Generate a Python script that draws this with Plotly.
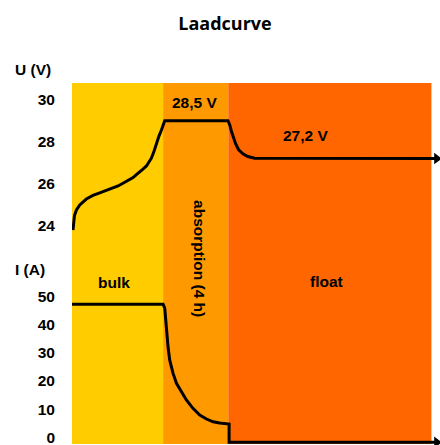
import plotly.graph_objects as go

# phases (hours)
phase_names = ["bulk", "absorption (4 h)", "float"]
phase_start = [0.0, 5.52, 9.47]
phase_end = [5.52, 9.47, 21.78]
phase_colors = ["#FFCC00", "#FF9900", "#FF6600"]

# voltage curve (V)
u_time = [0.06, 0.09, 0.15, 0.27, 0.47, 0.87, 1.27, 1.68, 2.08, 2.48, 2.79, 3.09, 3.39, 3.70, 3.92, 4.10,
          4.30, 4.51, 4.67, 4.81, 4.97, 5.12, 5.27, 5.42, 5.53, 5.62,
          9.45, 9.56, 9.66, 9.76, 9.92, 10.10, 10.36, 10.65, 11.07, 22.1]
u_volt = [23.8, 24.2, 24.5, 24.76, 25.0, 25.28, 25.45, 25.57, 25.68, 25.79, 25.9, 26.03, 26.15, 26.3, 26.45, 26.55,
          26.7, 26.85, 27.02, 27.22, 27.55, 27.93, 28.27, 28.56, 28.8, 29.0,
          29.0, 28.8, 28.5, 28.24, 27.9, 27.62, 27.43, 27.3, 27.22, 27.2]

# current curve (A)
i_time = [0.0, 5.52, 5.62, 5.66, 5.72, 5.82, 5.92, 6.12, 6.33, 6.63, 6.93, 7.33, 7.74, 8.15, 8.55, 8.95, 9.45,
          9.52, 9.52, 22.1]
i_amp = [47.3, 47.3, 45.9, 42.9, 38.2, 32.2, 27.5, 22.8, 19.2, 16.2, 13.3, 10.3, 7.9, 6.5, 5.5, 5.1, 4.7,
         4.7, -1.8, -1.8]

u_ticks = [24, 26, 28, 30]
i_ticks = [0, 10, 20, 30, 40, 50]

FONT = "Liberation Sans, Arial, sans-serif"
FS = 15.5

W, H = 440, 445

fig = go.Figure()

for s, e, c in zip(phase_start, phase_end, phase_colors):
    fig.add_shape(type="rect", xref="x", yref="paper", x0=s, x1=e, y0=0, y1=1,
                  fillcolor=c, line=dict(width=0), layer="below")

line = dict(color="black", width=3)
fig.add_trace(go.Scatter(x=u_time, y=u_volt, mode="lines", line=line,
                         xaxis="x", yaxis="y", showlegend=False, hoverinfo="skip"))
fig.add_trace(go.Scatter(x=[u_time[-1]], y=[u_volt[-1]], mode="markers", cliponaxis=False,
                         marker=dict(symbol="triangle-right", size=10, color="black"),
                         xaxis="x", yaxis="y", showlegend=False, hoverinfo="skip"))
fig.add_trace(go.Scatter(x=i_time, y=i_amp, mode="lines", line=line,
                         xaxis="x", yaxis="y2", showlegend=False, hoverinfo="skip"))
fig.add_trace(go.Scatter(x=[i_time[-1]], y=[i_amp[-1]], mode="markers", cliponaxis=False,
                         marker=dict(symbol="triangle-right", size=10, color="black"),
                         xaxis="x", yaxis="y2", showlegend=False, hoverinfo="skip"))

ann = dict(showarrow=False, font=dict(family=FONT, size=FS, color="black", weight="bold"))
fig.add_annotation(x=7.45, y=29.85, xref="x", yref="y", text="28,5 V", **ann)
fig.add_annotation(x=14.15, y=28.3, xref="x", yref="y", text="27,2 V", **ann)
fig.add_annotation(x=2.57, y=55.2, xref="x", yref="y2", text=phase_names[0], **ann)
fig.add_annotation(x=15.45, y=55.3, xref="x", yref="y2", text=phase_names[2], **ann)
fig.add_annotation(x=7.75, y=(444 - 259) / 361, xref="x", yref="paper", text=phase_names[1], textangle=90,
                   yanchor="middle", xanchor="center", **ann)
fig.add_annotation(x=-72 / 368, y=(444 - 70) / 361, xref="paper", yref="paper", text="U (V)",
                   xanchor="left", yanchor="middle", xshift=13, **ann)
fig.add_annotation(x=-72 / 368, y=(444 - 269) / 361, xref="paper", yref="paper", text="I (A)",
                   xanchor="left", yanchor="middle", xshift=13, **ann)

tickfont = dict(family=FONT, size=FS, color="black", weight="bold")
axis_common = dict(showgrid=False, zeroline=False, showline=False, ticks="", tickfont=tickfont,
                   ticklabelstandoff=16, ticklabeloverflow="allow")
fig.update_layout(
    width=W, height=H,
    margin=dict(l=72, r=0, t=83, b=1, autoexpand=False),
    paper_bgcolor="white", plot_bgcolor="white",
    title=dict(text="Laadcurve", x=225 / W, xanchor="center", y=1 - 24 / H, yanchor="middle",
               font=dict(family="Open Sans, sans-serif", size=18, color="black", weight="bold")),
    xaxis=dict(range=[0, 22.3], visible=False, fixedrange=True),
    yaxis=dict(domain=[(444 - 240) / 361, 1], range=[23.335, 30.79], tickvals=u_ticks,
               ticktext=[str(v) for v in u_ticks], fixedrange=True, **axis_common),
    yaxis2=dict(domain=[0, (444 - 260) / 361], range=[-2.38, 63.05], tickvals=i_ticks,
                ticktext=[str(v) for v in i_ticks], fixedrange=True, **axis_common),
)

fig.write_html("out.html", config={"displayModeBar": False, "staticPlot": True},
               post_script="document.body.style.margin='0';document.body.style.overflow='hidden';")
